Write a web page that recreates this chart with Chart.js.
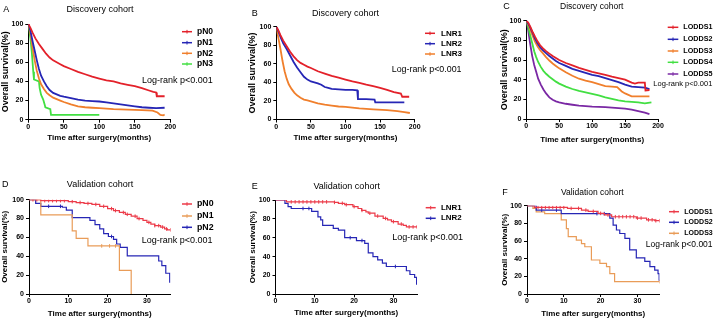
<!DOCTYPE html>
<html>
<head>
<meta charset="utf-8">
<script src="https://cdn.jsdelivr.net/npm/chart.js@4.4.1/dist/chart.umd.min.js"></script>
<style>
  html, body { margin: 0; padding: 0; background: #fff; }
  #wrap { position: relative; width: 715px; height: 319px; overflow: hidden; }
  canvas { position: absolute; }
</style>
</head>
<body>
<div id="wrap">
  <canvas id="cA"></canvas>
  <canvas id="cB"></canvas>
  <canvas id="cC"></canvas>
  <canvas id="cD"></canvas>
  <canvas id="cE"></canvas>
  <canvas id="cF"></canvas>
</div>
<script>
const FONT = "'Liberation Sans', Arial, Helvetica, sans-serif"

// ---- discovery cohort, [months, % surviving] ----
const pN0_disc = [[0,100],[3,96],[6,91],[10,85],[15,79],[20,74],[25,69],[30,65],[35,62],[40,60],[45,58],[50,56],[60,53],[70,50],[80,47.5],[90,45],[100,43],[110,41],[120,40],[130,38],[140,36.5],[150,35],[160,33],[170,30.5],[176,29],[180,28.5],[181,24.5],[192,24.5]]
const pN1_disc = [[0,100],[3,93],[6,82],[9,72],[12,62],[15,53],[18,46],[22,40],[26,35],[30,31],[35,28],[40,26.5],[45,25],[50,24],[60,22.5],[70,21],[80,20],[90,19.5],[100,19],[110,18],[120,17],[130,16],[140,15],[150,14],[160,13],[170,12.5],[180,12],[192,12.5]]
const pN2_disc = [[0,100],[3,90],[6,75],[9,62],[12,51],[15,43],[18,37],[22,32],[26,28],[30,25.5],[35,23],[40,21.5],[45,20],[50,18.5],[60,16],[70,14],[80,13],[90,12.5],[100,12],[120,11],[140,10.5],[160,10],[175,9.5],[182,7.5],[186,5],[190,4.5],[192,5.5]]
const pN3_disc = [[0,100],[3,85],[5,70],[7,50],[8,42],[15,40],[16,33],[18,26],[21,21],[23,16],[24,13],[31,11],[32,5],[100,5]]

const LNR1_disc = [[0,100],[3,96],[6,91],[10,85],[15,79],[20,73],[25,68],[30,64],[35,61],[40,59],[45,57],[50,55.5],[60,52],[70,49.5],[80,47],[90,45],[100,43],[110,41],[120,39.5],[130,37.5],[140,36],[150,34],[160,32],[170,29.5],[180,28],[182,24.5],[192,24.5]]
const LNR2_disc = [[0,100],[3,95],[6,89],[10,82],[15,76],[20,69],[25,62],[30,56],[35,51],[40,46],[45,43],[50,41],[55,40],[60,39],[65,37.5],[70,35],[75,34],[80,33],[90,32.5],[100,32],[110,32],[117,31.5],[118,22],[130,22],[142,21.5],[143,18.5],[185,18.5]]
const LNR3_disc = [[0,100],[3,88],[6,76],[9,63],[12,52],[15,44],[18,38],[22,33],[26,29],[30,26],[35,23.5],[40,21.5],[45,20.5],[50,19.5],[60,17.5],[70,16],[80,15],[90,14],[100,13.5],[120,12],[140,11],[160,10],[175,9],[185,8],[193,7]]

const LODDS1_disc = [[0,100],[3,98],[6,94],[10,88],[13,84],[17,79],[21,75],[25,72],[30,69],[35,66.5],[40,64],[45,62],[50,60],[60,57],[70,54.5],[80,52],[90,50],[100,48],[110,46.5],[120,45],[130,43],[140,41.5],[150,40],[160,37],[165,36],[170,37],[180,37],[181,29],[187,29.5]]
const LODDS2_disc = [[0,100],[3,97],[6,93],[10,87],[13,82],[17,77],[21,73],[25,70],[30,67],[35,64],[40,61.5],[45,59],[50,57],[60,54],[70,51],[80,49],[90,47],[100,45],[110,43.5],[120,41.5],[130,39.5],[140,37.5],[150,35],[160,33],[170,32.5],[180,32],[187,30.5]]
const LODDS3_disc = [[0,100],[3,96],[6,91],[10,84],[13,79],[17,74],[21,70],[25,67],[30,63],[35,59.5],[40,56.5],[45,54],[50,51.5],[60,47.5],[70,44],[80,41],[90,39],[100,37.5],[110,35.5],[120,33.5],[130,33],[138,32.5],[145,28],[150,26],[160,23],[170,23],[187,23]]
const LODDS4_disc = [[0,100],[3,93],[6,85],[9,77],[12,69],[15,63],[18,58],[22,53],[26,49],[30,46],[35,43],[40,40.5],[45,38],[50,36],[60,33],[70,30.5],[80,28.5],[90,27],[100,25.5],[110,24],[120,22],[130,20.5],[140,19],[150,18],[160,17.5],[170,17],[180,16],[190,17]]
const LODDS5_disc = [[0,100],[3,90],[6,76],[9,64],[12,55],[15,48],[18,41],[22,35],[26,30],[30,26],[35,22],[40,19.5],[45,18],[50,17],[60,15.5],[70,14.5],[80,13.5],[90,13],[100,12.5],[120,12],[140,11],[150,10.5],[160,9.5],[170,8],[180,6.5],[187,5]]

// ---- validation cohort, Kaplan-Meier steps [months, % surviving] ----
const pN0_val = [[0,100],[3,99],[10,98],[12,97],[14,96],[16,95],[18,93],[20,90.5],[21.5,88.5],[23,86.5],[24.5,84.5],[26,82.5],[27.5,80],[29,78],[30,76],[31,74],[32,72.5],[33.5,71],[34.5,69],[35.2,68],[36,68]]
const pN1_val = [[0,100],[3,84],[11,67],[12,59],[15,51],[23,25],[26,0]]
const pN2_val = [[0,100],[1.7,96],[3,93],[8.5,92],[9.5,89],[11,81],[15.5,78],[16.8,73.5],[18,69],[19,64],[20.2,61],[21.5,58],[22.3,53],[23.2,49.5],[25,40.5],[33,35],[33.8,30],[34.8,22],[35.8,12]]
const pN0_val_cens = [1,2,4,5,6,7,8,9,11,13,15,17,19,21,22,24,25,27,28,30.5,32,33,34,35,36]
const pN1_val_cens = [18.5,20.5,22]
const pN2_val_cens = [5,8,21]

const LNR1_val = [[0,100],[2.8,98],[15,97.5],[16,96.5],[17.6,95],[19.7,93],[21,91],[21.9,89],[23,87.5],[23.6,86],[25.3,83],[27.4,80.5],[28.5,79],[29.5,77],[31.2,74.5],[32.5,73],[33.3,71.5],[36,71.5]]
const LNR2_val = [[0,100],[2.4,96.5],[3.2,93],[4,91],[9.2,88],[10.8,82],[11.5,79],[12,73],[14.7,70],[16,68],[17.6,60],[20.6,57],[22.7,54],[23.6,44],[24.8,40],[26,36.5],[27.2,33],[28.2,29.5],[33.3,25],[34.2,21],[35.4,18],[35.9,10]]
const LNR1_val_cens = [4,5,6,7,8,9,10,11,12,13,15,17,18,20,22,24,26,28,30,32,34,35,36]
const LNR2_val_cens = [7,8.5,19,22,30.5]

const LODDS1_val = [[0,100],[2,98],[11,97],[14.8,95],[16.6,93.6],[19.3,91.3],[21,89.5],[23,87.5],[29.7,86],[32.5,84],[34.7,83],[36,83]]
const LODDS2_val = [[0,100],[2.5,95],[9.3,91],[22.5,86],[23.4,78],[24.3,72.5],[25.2,68.5],[26.6,63],[27.9,50],[29.7,41],[32,37],[33.4,31],[34.7,27],[35.6,23],[35.9,15]]
const LODDS3_val = [[0,100],[1.6,97],[2.5,93],[4.8,91],[9.3,84],[10.7,74],[11.2,65],[13.4,61],[14.8,57],[15.7,53.5],[17.5,38.5],[19.8,34.7],[21.6,31],[22.5,23],[23.8,14],[36,14]]
const LODDS1_val_cens = [3,4,5,6,7,8,9,10,12,14,16,18,20,22,24,25,26,27,28,29,30,31,33,34,35,36]
const LODDS2_val_cens = [4,8,19,21]
const LODDS3_val_cens = [36]

const RED = '#e3212a', RED_V = '#ec3a48', BLUE = '#2626b5', ORANGE = '#f07f2c', ORANGE_V = '#e99c58', GREEN = '#42df42', PURPLE = '#7a28a4'

function survAt(curve, t) {
  let v = curve[0][1]
  for (const [x, y] of curve) if (x <= t) v = y
  return v
}

function panel(id, cfg) {
  const box = cfg.box
  const canvas = document.getElementById(id)
  canvas.width = box.w
  canvas.height = box.h
  canvas.style.left = box.x + 'px'
  canvas.style.top = box.y + 'px'

  const yTitleSize = cfg.yTitleSize, xTitleSize = 8
  const padLeft = Math.max(0, cfg.yTitleX - box.x - yTitleSize * 1.2 / 2)
  const yWidth = cfg.plot.l - box.x - padLeft
  const xBottom = cfg.xTitleY - box.y + xTitleSize * 1.2 / 2
  const xHeight = xBottom - (cfg.plot.b - box.y)

  const datasets = []
  cfg.series.forEach(s => {
    datasets.push({
      data: s.data.map(([x, y]) => ({x, y})),
      borderColor: s.color,
      borderWidth: cfg.stepped ? 1.2 : 1.8,
      pointRadius: 0,
      stepped: cfg.stepped,
      tension: 0,
      fill: false
    })
    if (s.cens) {
      datasets.push({
        data: s.cens.map(t => ({x: t, y: survAt(s.data, t)})),
        showLine: false,
        pointStyle: 'line',
        pointRotation: 90,
        pointRadius: 1.8,
        pointBorderWidth: 1,
        pointBorderColor: s.color,
        borderColor: s.color
      })
    }
  })

  const panelText = {
    id: 'panelText',
    afterDraw(chart) {
      const ctx = chart.ctx, ox = box.x, oy = box.y
      ctx.save()
      ctx.fillStyle = '#000'
      ctx.textBaseline = 'middle'
      ctx.textAlign = 'left'
      ctx.font = `9px ${FONT}`
      ctx.fillText(cfg.letter.text, cfg.letter.x - ox, cfg.letter.y - oy)
      ctx.textAlign = 'center'
      ctx.font = `${cfg.title.size}px ${FONT}`
      ctx.fillText(cfg.title.text, cfg.title.x - ox, cfg.title.y - oy)
      ctx.textAlign = 'left'
      ctx.font = `${cfg.logrank.size}px ${FONT}`
      ctx.fillText('Log-rank p<0.001', cfg.logrank.x - ox, cfg.logrank.y - oy)
      ctx.font = `bold ${cfg.legend.size}px ${FONT}`
      cfg.series.forEach((s, i) => {
        const y = cfg.legend.ys[i] - oy
        const x1 = cfg.legend.x1 - ox, x2 = cfg.legend.x2 - ox
        ctx.strokeStyle = s.color
        ctx.lineWidth = 1.5
        ctx.beginPath(); ctx.moveTo(x1, y); ctx.lineTo(x2, y); ctx.stroke()
        ctx.lineWidth = 1
        const mx = (x1 + x2) / 2
        ctx.beginPath(); ctx.moveTo(mx, y - 1.8); ctx.lineTo(mx, y + 1.8); ctx.stroke()
        ctx.fillStyle = '#000'
        ctx.fillText(s.label, cfg.legend.tx - ox, y)
      })
      ctx.restore()
    }
  }

  const tickFont = {size: 7, weight: 'bold', family: FONT}

  return new Chart(canvas.getContext('2d'), {
    type: 'line',
    data: {datasets},
    options: {
      responsive: false,
      animation: false,
      devicePixelRatio: 1,
      layout: {
        padding: {
          left: padLeft,
          top: cfg.plot.t - box.y,
          right: box.x + box.w - cfg.plot.r,
          bottom: box.h - xBottom
        }
      },
      plugins: {legend: {display: false}, tooltip: {enabled: false}},
      scales: {
        x: {
          type: 'linear', min: 0, max: cfg.xMax,
          ticks: {stepSize: cfg.xStep, includeBounds: false, padding: 0, font: tickFont, color: '#000', maxRotation: 0, autoSkip: false},
          grid: {drawOnChartArea: false, drawTicks: true, tickLength: 3, color: '#000', lineWidth: 1},
          border: {color: '#000', width: 1},
          title: {display: true, text: 'Time after surgery(months)', font: {size: xTitleSize, weight: 'bold', family: FONT}, color: '#000', padding: 0},
          afterFit: s => { s.height = xHeight }
        },
        y: {
          type: 'linear', min: 0, max: 100,
          ticks: {stepSize: 20, padding: 2, font: tickFont, color: '#000'},
          grid: {drawOnChartArea: false, drawTicks: true, tickLength: 3, color: '#000', lineWidth: 1},
          border: {color: '#000', width: 1},
          title: {display: true, text: 'Overall survival(%)', font: {size: yTitleSize, weight: 'bold', family: FONT}, color: '#000', padding: 0},
          afterFit: s => { s.width = yWidth }
        }
      }
    },
    plugins: [panelText]
  })
}

panel('cA', {
  box: {x: 0, y: 0, w: 238, h: 160}, plot: {l: 28.3, r: 170.3, t: 24, b: 119.7},
  xMax: 200, xStep: 50, stepped: false, yTitleX: 5.7, yTitleSize: 9, xTitleY: 137.3,
  letter: {text: 'A', x: 3.3, y: 10}, title: {text: 'Discovery cohort', x: 100, y: 10, size: 9},
  logrank: {x: 142, y: 81, size: 9},
  legend: {x1: 182, x2: 192, tx: 197, ys: [31.7, 42.7, 53.3, 64], size: 8.5},
  series: [
    {label: 'pN0', color: RED, data: pN0_disc},
    {label: 'pN1', color: BLUE, data: pN1_disc},
    {label: 'pN2', color: ORANGE, data: pN2_disc},
    {label: 'pN3', color: GREEN, data: pN3_disc}
  ]
})

panel('cB', {
  box: {x: 238, y: 0, w: 238, h: 160}, plot: {l: 276.3, r: 414.7, t: 26.7, b: 119.5},
  xMax: 200, xStep: 50, stepped: false, yTitleX: 252.3, yTitleSize: 9, xTitleY: 137.3,
  letter: {text: 'B', x: 251.7, y: 13.3}, title: {text: 'Discovery cohort', x: 345.5, y: 13.3, size: 9},
  logrank: {x: 391.7, y: 70, size: 8.9},
  legend: {x1: 425, x2: 435, tx: 441, ys: [33.3, 43.7, 54], size: 8},
  series: [
    {label: 'LNR1', color: RED, data: LNR1_disc},
    {label: 'LNR2', color: BLUE, data: LNR2_disc},
    {label: 'LNR3', color: ORANGE, data: LNR3_disc}
  ]
})

panel('cC', {
  box: {x: 476, y: 0, w: 239, h: 160}, plot: {l: 526.3, r: 658, t: 20.7, b: 119},
  xMax: 200, xStep: 50, stepped: false, yTitleX: 504.3, yTitleSize: 9, xTitleY: 139.3,
  letter: {text: 'C', x: 503.3, y: 6.7}, title: {text: 'Discovery cohort', x: 591.7, y: 6.7, size: 8.5},
  logrank: {x: 653.3, y: 84, size: 7.5},
  legend: {x1: 667.7, x2: 678.3, tx: 683.3, ys: [27.3, 39.3, 51, 62.3, 74], size: 7.2},
  series: [
    {label: 'LODDS1', color: RED, data: LODDS1_disc},
    {label: 'LODDS2', color: BLUE, data: LODDS2_disc},
    {label: 'LODDS3', color: ORANGE, data: LODDS3_disc},
    {label: 'LODDS4', color: GREEN, data: LODDS4_disc},
    {label: 'LODDS5', color: PURPLE, data: LODDS5_disc}
  ]
})

panel('cD', {
  box: {x: 0, y: 160, w: 238, h: 159}, plot: {l: 29, r: 170.5, t: 199.7, b: 294},
  xMax: 36, xStep: 10, stepped: true, yTitleX: 5, yTitleSize: 8, xTitleY: 314,
  letter: {text: 'D', x: 2, y: 184.3}, title: {text: 'Validation cohort', x: 100, y: 184.3, size: 9},
  logrank: {x: 141.7, y: 240.7, size: 9},
  legend: {x1: 182, x2: 192, tx: 197, ys: [204, 216, 227.3], size: 8.8},
  series: [
    {label: 'pN0', color: RED_V, data: pN0_val, cens: pN0_val_cens},
    {label: 'pN1', color: ORANGE_V, data: pN1_val, cens: pN1_val_cens},
    {label: 'pN2', color: BLUE, data: pN2_val, cens: pN2_val_cens}
  ]
})

panel('cE', {
  box: {x: 238, y: 160, w: 238, h: 159}, plot: {l: 275.5, r: 417, t: 200, b: 294.3},
  xMax: 36, xStep: 10, stepped: true, yTitleX: 252.3, yTitleSize: 8, xTitleY: 312.7,
  letter: {text: 'E', x: 251.7, y: 186.7}, title: {text: 'Validation cohort', x: 346.7, y: 186.7, size: 9},
  logrank: {x: 392.3, y: 237.3, size: 9},
  legend: {x1: 425.7, x2: 435.7, tx: 441, ys: [207.7, 218.3], size: 7.9},
  series: [
    {label: 'LNR1', color: RED_V, data: LNR1_val, cens: LNR1_val_cens},
    {label: 'LNR2', color: BLUE, data: LNR2_val, cens: LNR2_val_cens}
  ]
})

panel('cF', {
  box: {x: 476, y: 160, w: 239, h: 159}, plot: {l: 527, r: 659.5, t: 205.7, b: 294},
  xMax: 36, xStep: 10, stepped: true, yTitleX: 504.3, yTitleSize: 8, xTitleY: 313.3,
  letter: {text: 'F', x: 502.3, y: 192.3}, title: {text: 'Validation cohort', x: 592.3, y: 192.3, size: 8.5},
  logrank: {x: 645.7, y: 245, size: 8.5},
  legend: {x1: 669, x2: 679, tx: 684.3, ys: [211.7, 222.3, 233.3], size: 7},
  series: [
    {label: 'LODDS1', color: RED_V, data: LODDS1_val, cens: LODDS1_val_cens},
    {label: 'LODDS2', color: BLUE, data: LODDS2_val, cens: LODDS2_val_cens},
    {label: 'LODDS3', color: ORANGE_V, data: LODDS3_val, cens: LODDS3_val_cens}
  ]
})
</script>
</body>
</html>
